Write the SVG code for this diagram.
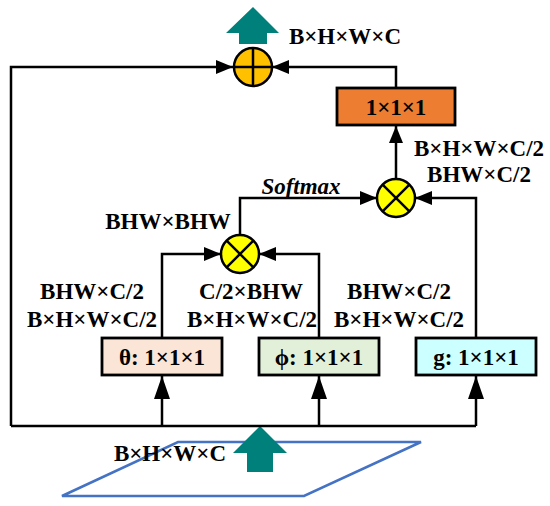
<svg xmlns="http://www.w3.org/2000/svg" width="550" height="506" viewBox="0 0 550 506">
<style>
.ln{fill:none;stroke:#000;stroke-width:2.5}
.t{font-family:"Liberation Serif","Times New Roman",serif;font-weight:bold;font-size:23px;fill:#000;text-anchor:middle}
.box{stroke:#000;stroke-width:2.8}
.op{stroke:#000;stroke-width:2.5}
.teal{fill:#00807A}
</style>
<defs>
<marker id="a" markerWidth="17" markerHeight="14" refX="17" refY="7" orient="auto" markerUnits="userSpaceOnUse"><path d="M0,0 L17,7 L0,14 z" fill="#000"/></marker>
<marker id="aL" markerWidth="23" markerHeight="16" refX="23" refY="8" orient="auto" markerUnits="userSpaceOnUse"><path d="M0,0 L23,8 L0,16 z" fill="#000"/></marker>
</defs>
<g id="input">
<polygon points="178,442 421,442 304,496 62,496" fill="none" stroke="#4472C4" stroke-width="2.5"/>
<text class="t" x="170" y="461">B×H×W×C</text>
<polygon class="teal" points="260,426 287,453 273,453 273,472 247,472 247,453 233,453"/>
</g>
<g id="connectors">
<path class="ln" d="M11,426 H476"/>
<path class="ln" d="M11,426 V67 H233" marker-end="url(#a)"/>
<path class="ln" d="M162,426 V376" marker-end="url(#aL)"/>
<path class="ln" d="M319,426 V376" marker-end="url(#aL)"/>
<path class="ln" d="M476,426 V376" marker-end="url(#aL)"/>
<path class="ln" d="M162,338 V254 H221" marker-end="url(#a)"/>
<path class="ln" d="M319,338 V254 H259" marker-end="url(#a)"/>
<path class="ln" d="M476,338 V198 H415" marker-end="url(#a)"/>
<path class="ln" d="M240,235 V198 H377" marker-end="url(#a)"/>
<path class="ln" d="M396,179 V126" marker-end="url(#a)"/>
<path class="ln" d="M396,88 V67 H272" marker-end="url(#a)"/>
</g>
<g id="theta">
<rect class="box" x="102" y="338" width="120" height="37" fill="#FBE5D6"/>
<text class="t" x="162" y="365">θ: 1×1×1</text>
</g>
<g id="phi">
<rect class="box" x="259" y="338" width="120" height="37" fill="#E2F0D9"/>
<text class="t" x="319" y="365">ϕ: 1×1×1</text>
</g>
<g id="g">
<rect class="box" x="416" y="338" width="120" height="37" fill="#CCFFFF"/>
<text class="t" x="476" y="365">g: 1×1×1</text>
</g>
<g id="mul1">
<circle class="op" cx="240" cy="254" r="19" fill="#FFFF00"/>
<path class="op" d="M226.6,240.6 L253.4,267.4 M253.4,240.6 L226.6,267.4"/>
</g>
<g id="mul2">
<circle class="op" cx="396" cy="198" r="19" fill="#FFFF00"/>
<path class="op" d="M382.6,184.6 L409.4,211.4 M409.4,184.6 L382.6,211.4"/>
</g>
<g id="conv">
<rect class="box" x="337" y="88" width="118" height="37" fill="#ED7D31"/>
<text class="t" x="396" y="115">1×1×1</text>
</g>
<g id="add">
<circle class="op" cx="253" cy="67" r="19" fill="#FFC000"/>
<path class="op" d="M234,67 H272 M253,48 V86"/>
<polygon class="teal" points="253,7 279,33 267,33 267,44 239,44 239,33 226,33"/>
</g>
<g id="labels">
<text class="t" x="345" y="44">B×H×W×C</text>
<text class="t" x="479" y="156">B×H×W×C/2</text>
<text class="t" x="479" y="182">BHW×C/2</text>
<text class="t" x="301" y="194" font-style="italic">Softmax</text>
<text class="t" x="168" y="229">BHW×BHW</text>
<text class="t" x="92" y="299">BHW×C/2</text>
<text class="t" x="92" y="327">B×H×W×C/2</text>
<text class="t" x="251" y="299">C/2×BHW</text>
<text class="t" x="252" y="327">B×H×W×C/2</text>
<text class="t" x="399" y="299">BHW×C/2</text>
<text class="t" x="399" y="327">B×H×W×C/2</text>
</g>
</svg>
